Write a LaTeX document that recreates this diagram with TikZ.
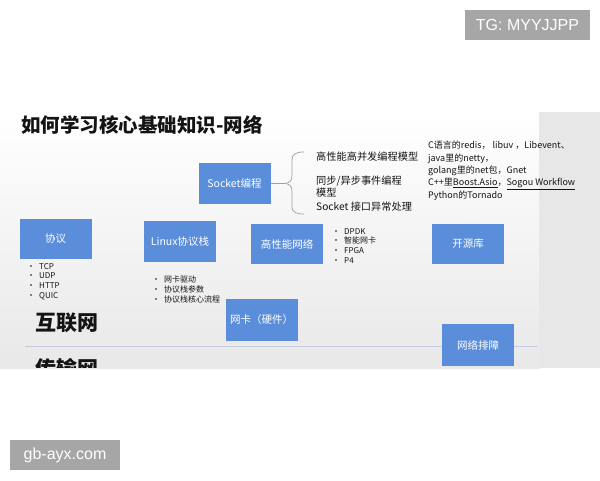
\documentclass[tikz,border=0pt]{standalone}
\usepackage{fontspec}
\setmainfont{Noto Sans CJK SC}
\newfontfamily\wmfont{Liberation Sans}
\definecolor{boxblue}{RGB}{90,142,218}
\definecolor{wmgray}{RGB}{166,166,166}
\definecolor{sidegray}{RGB}{231,231,231}
\definecolor{sepline}{RGB}{198,202,222}
\definecolor{bracegray}{RGB}{160,160,160}
\definecolor{txt}{RGB}{20,20,20}
\tikzset{
  x=1pt, y=-1pt,
  bluebox/.style={fill=boxblue, minimum width=72pt, minimum height=41pt, inner sep=0pt,
    text=white, font=\fontsize{10.5}{12}\selectfont},
  bullets/.style={anchor=north west, inner sep=0pt, align=left, text=txt,
    font=\fontsize{8}{9.7}\selectfont},
  plain/.style={anchor=west, inner sep=0pt, align=left, text=txt,
    font=\fontsize{10.2}{11.5}\selectfont},
  wmbox/.style={fill=wmgray, text=white, inner sep=0pt, font=\wmfont\fontsize{16}{18}\selectfont}
}
\newcommand{\bl}{\makebox[12pt][l]{•}}
\begin{document}
\begin{tikzpicture}
\useasboundingbox (0,0) rectangle (600,480);
\fill[white] (0,0) rectangle (600,480);
% slide background
\shade[top color=white, bottom color=black!9] (0,112) rectangle (540,368);
\fill[sidegray] (539,112) rectangle (600,368);
\begin{scope}
\clip (0,0) rectangle (600,367.5);
% separator line (under the boxes)
\draw[sepline, line width=0.8pt] (25,346) coordinate (sepA) -- (538,346) coordinate (sepB);
% title
\node[anchor=west, inner sep=0pt, font=\fontsize{19.5}{22}\selectfont\bfseries, text=txt] (title) at (21,125) {如何学习核心基础知识-网络};
% boxes
\node[bluebox, minimum height=40pt] (xieyi) at (55.5,239) {协议};
\node[bluebox] (linux) at (180,241.5) {Linux协议栈};
\node[bluebox, minimum height=40pt] (gxn) at (287,244) {高性能网络};
\node[bluebox] (socket) at (234.5,183.5) {Socket编程};
\node[bluebox, minimum height=40pt] (kyk) at (468,244) {开源库};
\node[bluebox, minimum height=42pt] (wk) at (261.5,320) {网卡（硬件）};
\node[bluebox, minimum height=42pt] (pz) at (478,345) {网络排障};
% brace
\draw[bracegray, line width=0.7pt] (socket.east) -- (283,183.5)
  .. controls (290,183.5) and (292,181) .. (292,175) -- (292,160)
  .. controls (292,154) and (296,152) .. (304,152);
\draw[bracegray, line width=0.7pt] (283,183.5)
  .. controls (290,183.5) and (292,186) .. (292,192) -- (292,207)
  .. controls (292,212) and (296,214) .. (304,214);
% socket texts
\node[plain] (s1) at (316,156.5) {高性能高并发编程模型};
\node[plain, anchor=north west] (s2) at (316,176) {同步/异步事件编程\\模型};
\node[plain] (s3) at (316,207) {Socket 接口异常处理};
% open-source text
\node[anchor=north west, inner sep=0pt, align=left, text=txt, font=\fontsize{9}{12.3}\selectfont] (oss) at (428,141) {C语言的redis， libuv ，Libevent、\\java里的netty，\\golang里的net包，Gnet\\C++里\underline{Boost.Asio}，\underline{Sogou Workflow}\\Python的Tornado};
% bullet lists
\node[bullets] (l1) at (27,263) {\bl TCP\\\bl UDP\\\bl HTTP\\\bl QUIC};
\node[bullets] (l2) at (152,276) {\bl 网卡驱动\\\bl 协议栈参数\\\bl 协议栈核心流程};
\node[bullets] (l3) at (332,228) {\bl DPDK\\\bl 智能网卡\\\bl FPGA\\\bl P4};
% section labels
\node[anchor=west, inner sep=0pt, font=\fontsize{21}{24}\selectfont\bfseries, text=txt] (hlw) at (35,323) {互联网};
\node[anchor=west, inner sep=0pt, font=\fontsize{21}{24}\selectfont\bfseries, text=txt] (csw) at (35,368) {传输网};
\end{scope}
% watermarks
\node[wmbox, minimum width=125pt, minimum height=30pt] (wm1) at (527.5,25) {TG: MYYJJPP};
\node[wmbox, minimum width=110pt, minimum height=30pt] (wm2) at (65,455) {gb-ayx.com};
\end{tikzpicture}
\end{document}
